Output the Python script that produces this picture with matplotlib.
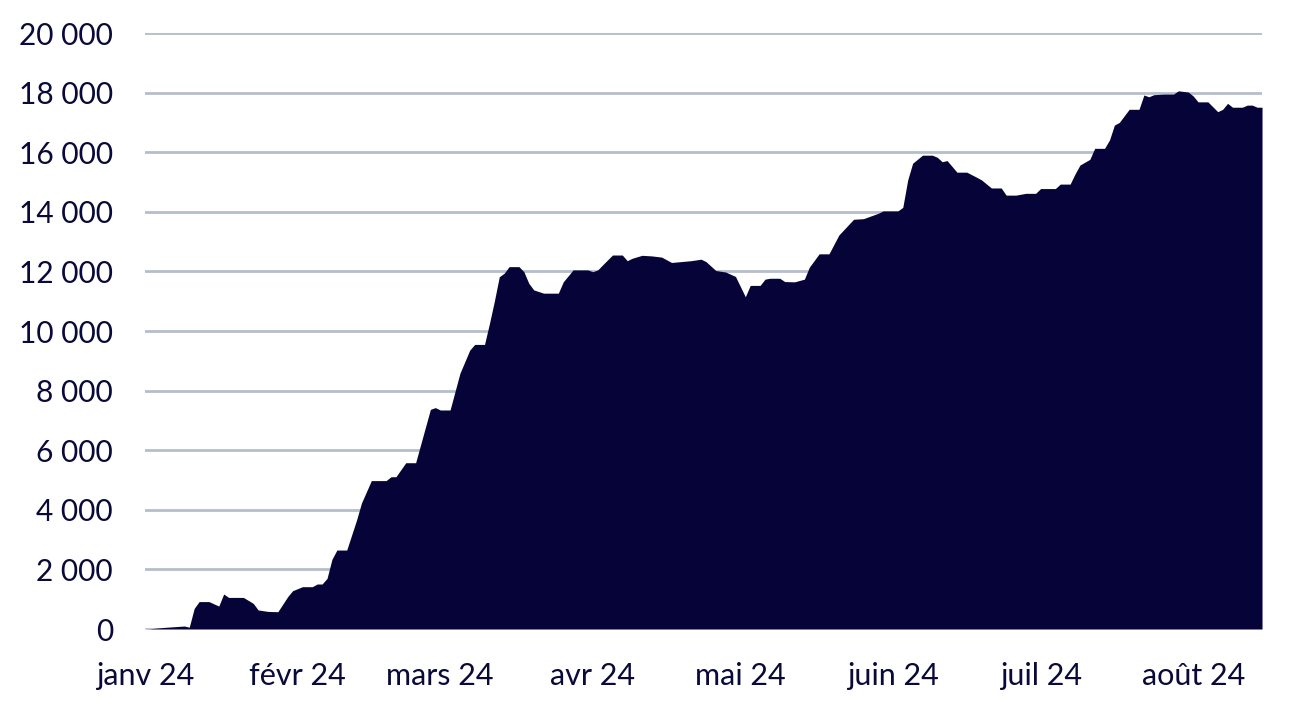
import matplotlib
matplotlib.use("Agg")
import matplotlib.pyplot as plt
import numpy as np

# daily series (turning points only)
dates = [
    "2024-01-01", "2024-01-02", "2024-01-05", "2024-01-09", "2024-01-10", "2024-01-11",
    "2024-01-12", "2024-01-14", "2024-01-16", "2024-01-17", "2024-01-18", "2024-01-21",
    "2024-01-23", "2024-01-24", "2024-01-26", "2024-01-28", "2024-01-30", "2024-01-31",
    "2024-02-02", "2024-02-04", "2024-02-05", "2024-02-06", "2024-02-07", "2024-02-08",
    "2024-02-09", "2024-02-11", "2024-02-13", "2024-02-14", "2024-02-16", "2024-02-19",
    "2024-02-20", "2024-02-21", "2024-02-23", "2024-02-25", "2024-02-28", "2024-02-29",
    "2024-03-01", "2024-03-03", "2024-03-05", "2024-03-07", "2024-03-08", "2024-03-10",
    "2024-03-11", "2024-03-12", "2024-03-13", "2024-03-14", "2024-03-15", "2024-03-17",
    "2024-03-18", "2024-03-19", "2024-03-20", "2024-03-22", "2024-03-25", "2024-03-26",
    "2024-03-28", "2024-03-31",
    "2024-04-01", "2024-04-02", "2024-04-03", "2024-04-05", "2024-04-07", "2024-04-08",
    "2024-04-09", "2024-04-11", "2024-04-13", "2024-04-15", "2024-04-17", "2024-04-19",
    "2024-04-21", "2024-04-23", "2024-04-24", "2024-04-26", "2024-04-28", "2024-04-30",
    "2024-05-01", "2024-05-02", "2024-05-03", "2024-05-05", "2024-05-06", "2024-05-07",
    "2024-05-09", "2024-05-10", "2024-05-12", "2024-05-14", "2024-05-15", "2024-05-17",
    "2024-05-19", "2024-05-21", "2024-05-24", "2024-05-26", "2024-05-29", "2024-05-30",
    "2024-06-02", "2024-06-03", "2024-06-04", "2024-06-05", "2024-06-07", "2024-06-09",
    "2024-06-10", "2024-06-11", "2024-06-12", "2024-06-14", "2024-06-16", "2024-06-18",
    "2024-06-19", "2024-06-21", "2024-06-23", "2024-06-24", "2024-06-26", "2024-06-28",
    "2024-06-30",
    "2024-07-01", "2024-07-04", "2024-07-05", "2024-07-07", "2024-07-08", "2024-07-09",
    "2024-07-11", "2024-07-12", "2024-07-14", "2024-07-15", "2024-07-16", "2024-07-17",
    "2024-07-19", "2024-07-21", "2024-07-22", "2024-07-23", "2024-07-24", "2024-07-26",
    "2024-07-28", "2024-07-29", "2024-07-31",
    "2024-08-01", "2024-08-02", "2024-08-04", "2024-08-06", "2024-08-07", "2024-08-08",
    "2024-08-09", "2024-08-11", "2024-08-12", "2024-08-13", "2024-08-14", "2024-08-15",
]
values = [
    5, 10, 55, 100, 60, 690,
    920, 920, 770, 1175, 1060, 1060,
    860, 640, 590, 580, 1085, 1285,
    1420, 1420, 1510, 1510, 1700, 2340,
    2650, 2650, 3660, 4230, 4980, 4980,
    5110, 5110, 5580, 5580, 7370, 7430,
    7350, 7350, 8580, 9360, 9550, 9550,
    10250, 11000, 11820, 11940, 12160, 12160,
    11990, 11600, 11380, 11270, 11270, 11650,
    12050, 12050,
    11990, 12050, 12220, 12550, 12550, 12360,
    12440, 12540, 12520, 12480, 12300, 12330,
    12360, 12410, 12330, 12030, 11980, 11830,
    11490, 11150, 11530, 11530, 11740, 11770,
    11770, 11660, 11650, 11740, 12140, 12590,
    12590, 13220, 13750, 13770, 13950, 14030,
    14030, 14150, 15070, 15630, 15900, 15900,
    15830, 15680, 15720, 15330, 15330, 15160,
    15070, 14800, 14800, 14560, 14560, 14620,
    14620,
    14780, 14780, 14930, 14930, 15270, 15570,
    15760, 16130, 16130, 16410, 16910, 17000,
    17440, 17440, 17920, 17860, 17930, 17950,
    17950, 18060, 18020,
    17890, 17690, 17690, 17360, 17440, 17640,
    17510, 17510, 17580, 17580, 17510, 17510,
]

month_starts = ["2024-01-01", "2024-02-01", "2024-03-01", "2024-04-01",
                "2024-05-01", "2024-06-01", "2024-07-01", "2024-08-01"]
month_labels = ["janv 24", "févr 24", "mars 24", "avr 24",
                "mai 24", "juin 24", "juil 24", "août 24"]
y_ticks = [0, 2000, 4000, 6000, 8000, 10000, 12000, 14000, 16000, 18000, 20000]

navy = "#060338"
text_col = "#0a0a3a"
grid_col = "#b4bfca"

plt.rcParams['font.family'] = ['Lato', 'DejaVu Sans']

x = np.array(dates, dtype="datetime64[D]")
y = np.array(values, dtype=float)

fig = plt.figure(figsize=(12.92, 7.01), dpi=100)
ax = fig.add_axes([0.1122, 0.1027, 0.8646, 0.8502])

ax.fill_between(x, 0, y, color=navy, linewidth=0, zorder=3)

ax.set_xlim(np.datetime64("2024-01-01"), np.datetime64("2024-08-15"))
ax.set_ylim(0, 20000)

ax.set_yticks(y_ticks)
ax.set_yticklabels([f"{v:,}".replace(",", " ") for v in y_ticks])
ax.set_xticks(np.array(month_starts, dtype="datetime64[D]"))
ax.set_xticklabels(month_labels)

ax.grid(axis='y', color=grid_col, linewidth=2, zorder=1)
ax.set_axisbelow(True)
for s in ax.spines.values():
    s.set_visible(False)
ax.tick_params(axis='both', length=0, colors=text_col)
ax.tick_params(axis='y', pad=23, labelsize=21.5)
ax.tick_params(axis='x', pad=24, labelsize=22)

fig.savefig("out.png", dpi=100)
